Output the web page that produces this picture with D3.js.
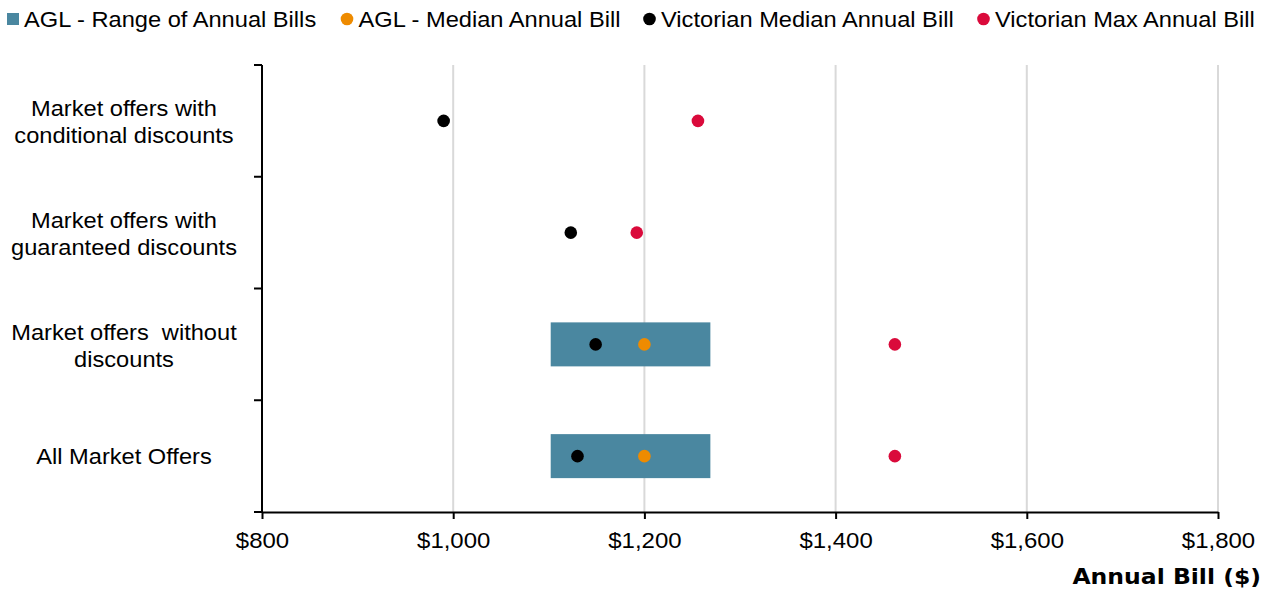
<!DOCTYPE html>
<html><head><meta charset="utf-8">
<script src="https://cdn.jsdelivr.net/npm/d3@7"></script>
<style>body{margin:0;background:#fff}svg{display:block}text{white-space:pre}</style>
</head><body>
<svg id="c" width="1271" height="591"></svg>
<script>
const categories = [
  ["Market offers with","conditional discounts"],
  ["Market offers with","guaranteed discounts"],
  ["Market offers  without","discounts"],
  ["All Market Offers"]
];
const aglRangeLow  = [null, null, 1102, 1102];
const aglRangeHigh = [null, null, 1269, 1269];
const aglMedian    = [null, null, 1200, 1200];
const vicMedian    = [990, 1123, 1149, 1130];
const vicMax       = [1256, 1192, 1462, 1462];
const xTicks = [800, 1000, 1200, 1400, 1600, 1800];
const legendLabels = ["AGL - Range of Annual Bills","AGL - Median Annual Bill","Victorian Median Annual Bill","Victorian Max Annual Bill"];
const colors = {bar:"#4A87A0", agl:"#EE8B00", vicMed:"#000000", vicMax:"#DA0A3B"};

const svg = d3.select("#c");
const L = 262, R = 1218, T = 65, B = 512;
const x = d3.scaleLinear().domain([800,1800]).range([L,R]);
const y = d3.scaleBand().domain(d3.range(categories.length)).range([T,B]).paddingInner(0).paddingOuter(0);

// grid
svg.append("g").selectAll("line").data(xTicks.slice(1)).join("line")
  .attr("x1",d=>x(d)).attr("x2",d=>x(d)).attr("y1",T).attr("y2",B)
  .attr("stroke","#D9D9D9").attr("stroke-width",2);

// bars
const idx = d3.range(categories.length);
svg.append("g").selectAll("rect").data(idx.filter(i=>aglRangeLow[i]!=null)).join("rect")
  .attr("x",i=>x(aglRangeLow[i])).attr("width",i=>x(aglRangeHigh[i])-x(aglRangeLow[i]))
  .attr("y",i=>y(i)+y.bandwidth()/2-22).attr("height",44).attr("fill",colors.bar);

// axes
const xa = svg.append("g").attr("transform",`translate(0,${B})`)
  .call(d3.axisBottom(x).tickValues(xTicks).tickSize(7).tickSizeOuter(0).tickFormat(d=>"$"+d3.format(",")(d)));
xa.select(".domain").attr("stroke","#000").attr("stroke-width",2);
xa.selectAll(".tick line").attr("stroke","#000").attr("stroke-width",2);
xa.selectAll(".tick text").attr("font-family","'Liberation Sans',Arial,sans-serif").attr("font-size",22).attr("fill","#000")
  .attr("y",20).attr("dy","0.71em").attr("transform","scale(1.09,1)");

const yTickPos = d3.range(categories.length+1).map(i=>T + i*y.step());
svg.append("line").attr("x1",L).attr("x2",L).attr("y1",T).attr("y2",B).attr("stroke","#000").attr("stroke-width",2);
svg.append("g").selectAll("line").data(yTickPos).join("line")
  .attr("x1",L-8).attr("x2",L).attr("y1",d=>d).attr("y2",d=>d).attr("stroke","#000").attr("stroke-width",2);

// y labels
const yl = svg.append("g").attr("transform","translate(124,0) scale(1.06,1)")
  .attr("font-family","'Liberation Sans',Arial,sans-serif").attr("font-size",22.3).attr("fill","#000").attr("text-anchor","middle");
categories.forEach((lines,i)=>{
  const cy = y(i)+y.bandwidth()/2;
  const t = yl.append("text");
  lines.forEach((s,j)=>{
    const base = lines.length===1 ? cy+8 : cy-4.5+j*27;
    t.append("tspan").attr("x",0).attr("y",base).text(s);
  });
});

// points
function pts(arr,color){
  svg.append("g").selectAll("circle").data(idx.filter(i=>arr[i]!=null)).join("circle")
    .attr("cx",i=>x(arr[i])).attr("cy",i=>y(i)+y.bandwidth()/2).attr("r",6.3).attr("fill",color);
}
pts(vicMedian,colors.vicMed);
pts(aglMedian,colors.agl);
pts(vicMax,colors.vicMax);

// axis title
svg.append("text").attr("transform","translate(1261,584) scale(1.12,1)").attr("text-anchor","end")
  .attr("font-family","'DejaVu Sans',Verdana,sans-serif").attr("font-weight","bold").attr("font-size",21).attr("fill","#000")
  .text("Annual Bill ($)");

// legend
const lg = svg.append("g").attr("font-family","'Liberation Sans',Arial,sans-serif").attr("font-size",21.5).attr("fill","#000");
const legX = [24, 358.5, 661, 995];
const legCol = [colors.bar, colors.agl, colors.vicMed, colors.vicMax];
legendLabels.forEach((s,i)=>{
  if(i===0) lg.append("rect").attr("x",7).attr("y",13).attr("width",12).attr("height",12).attr("fill",legCol[i]);
  else lg.append("circle").attr("cx",legX[i]-11.5).attr("cy",19).attr("r",6.3).attr("fill",legCol[i]);
  lg.append("text").attr("transform",`translate(${legX[i]},26.7) scale(1.1,1)`).text(s);
});
</script>
</body></html>
